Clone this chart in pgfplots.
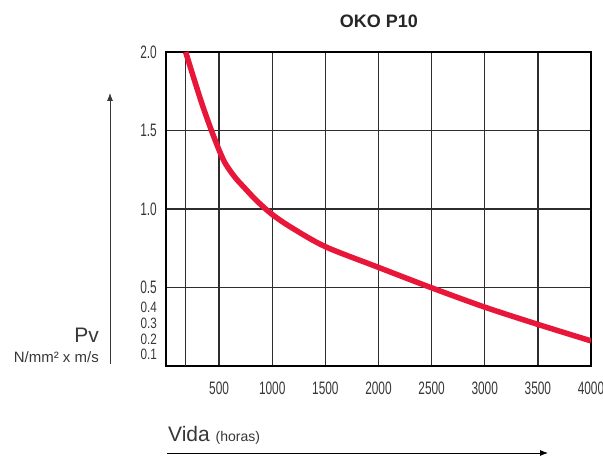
\documentclass[border=0pt]{standalone}
\usepackage{pgfplots}
\pgfplotsset{compat=1.18}
\usepackage{fontspec}
\setmainfont{Liberation Sans}
\newfontfamily\condfont[FakeStretch=0.66]{Liberation Sans}
\newfontfamily\condfontb[FakeStretch=0.78]{Liberation Sans}
\usetikzlibrary{arrows.meta}
\definecolor{curvered}{RGB}{232,23,58}
\definecolor{gridgray}{RGB}{45,45,45}
\definecolor{txtgray}{RGB}{55,55,55}
\begin{document}
\begin{tikzpicture}[x=1pt,y=1pt]
\useasboundingbox (-166,-91) rectangle (437,366);
\begin{axis}[
  at={(0,0)}, anchor=south west,
  scale only axis, width=425pt, height=314pt,
  xmin=0, xmax=4000, ymin=0, ymax=2,
  xtick={500,1000,...,4000},
  ytick={0.5,1.0,1.5,2.0},
  extra y ticks={0.1,0.2,0.3,0.4},
  extra y tick style={grid=none, yticklabel style={yshift=-4.5pt, font=\condfontb\fontsize{15}{15}\selectfont}},
  extra x ticks={185},
  extra x tick labels={},
  extra x tick style={grid=major},
  grid=major,
  major grid style={gridgray, line width=1.35pt},
  axis line style={black, line width=2.5pt},
  major tick length=0pt,
  tick label style={font=\condfont\fontsize{18}{18}\selectfont, text=txtgray, inner sep=0pt},
  /pgf/number format/assume math mode=true,
  xticklabel style={/pgf/number format/1000 sep={}, yshift=-16pt},
  yticklabel style={/pgf/number format/fixed, /pgf/number format/fixed zerofill, /pgf/number format/precision=1, xshift=-9pt},
]
\addplot[curvered, line width=5.5pt, smooth] coordinates {
(185,2.0) (263,1.83) (341,1.665) (425,1.505) (500,1.375) (550,1.30) (607,1.24)
(670,1.185) (732,1.14) (850,1.055) (1000,0.965) (1185,0.88) (1500,0.76)
(2000,0.628) (2500,0.498) (3000,0.375) (3500,0.265) (4000,0.16)
};
\end{axis}
\node[font=\bfseries\fontsize{18}{18}\selectfont, text=black!85] at (213,344.5) {OKO P10};
\draw[-{Latex[length=8pt,width=6pt]}, line width=0.8pt, txtgray] (-56,2) -- (-56,273);
\node[anchor=base east, inner sep=0pt, font=\fontsize{21}{21}\selectfont, text=txtgray] at (-67,23) {Pv};
\node[anchor=base east, inner sep=0pt, font=\fontsize{15}{15}\selectfont, text=txtgray] at (-67,3) {N/mm² x m/s};
\node[anchor=base west, inner sep=0pt, font=\fontsize{21}{21}\selectfont, text=txtgray] at (2,-76) {Vida {\fontsize{14}{14}\selectfont (horas)}};
\draw[-{Latex[length=8pt,width=6pt]}, line width=0.8pt, black] (1,-87) -- (382,-87);
\end{tikzpicture}
\end{document}
